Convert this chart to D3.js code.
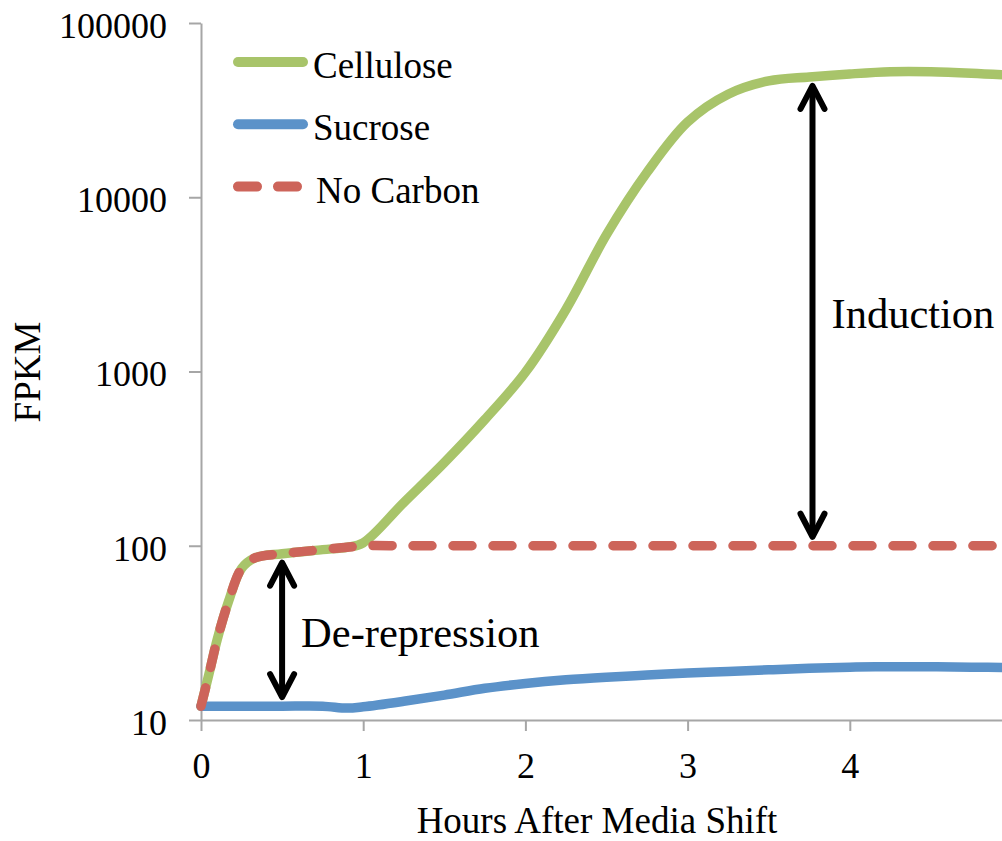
<!DOCTYPE html>
<html>
<head>
<meta charset="utf-8">
<script src="https://cdn.jsdelivr.net/npm/d3@7"></script>
<style>
  html, body { margin: 0; padding: 0; background: #fff; }
  svg { display: block; font-family: "Liberation Serif", "Times New Roman", serif; }
</style>
</head>
<body>
<div id="chart"></div>
<script>
// hours after the media shift
const hours = [0, 0.05, 0.1, 0.17, 0.25, 0.33, 0.5, 0.75, 0.9, 1, 1.25, 1.5, 1.75, 2,
  2.25, 2.5, 2.75, 3, 3.25, 3.5, 3.75, 4, 4.25, 4.5, 4.75, 5];

// FPKM
const cellulose = [12, 18.5, 29, 48, 74, 85, 90, 95, 98, 104, 177, 300, 530, 990,
  2270, 6100, 13900, 27000, 39000, 46500, 49000, 51000, 52500, 52500, 51500, 50000];
const sucrose = [12, 12, 12, 12, 12, 12, 12, 12, 11.7, 11.9, 12.8, 13.9, 15.2, 16.2,
  17.0, 17.6, 18.1, 18.6, 19.0, 19.4, 19.8, 20.1, 20.2, 20.2, 20.1, 20.0];
const noCarbon = [12, 18.5, 29, 48, 74, 85, 90, 95, 98, 100, 100, 100, 100, 100,
  100, 100, 100, 100, 100, 100, 100, 100, 100, 100, 100, 100];

const seriesNames = ["Cellulose", "Sucrose", "No Carbon"];
const xTicks = [0, 1, 2, 3, 4];
const yTicks = [10, 100, 1000, 10000, 100000];

// annotation arrows: hour, lower value, upper value
const arrowLabels = ["De-repression", "Induction"];
const arrowHours = [0.5, 3.77];
const arrowLow = [12, 100];
const arrowHigh = [90, 49000];

const width = 1002, height = 841;
const colors = { "Cellulose": "#a8c46a", "Sucrose": "#5b92c9", "No Carbon": "#cd645a" };

const svg = d3.select("#chart").append("svg")
  .attr("width", width)
  .attr("height", height);

const x = d3.scaleLinear().domain([0, 5]).range([201, 1012]);
const y = d3.scaleLog().domain([10, 100000]).range([720, 23]);

// axes
const yAxis = svg.append("g")
  .attr("transform", "translate(201,0)")
  .call(d3.axisLeft(y).tickValues(yTicks).tickFormat(d3.format("d"))
    .tickSize(12).tickSizeOuter(0).tickPadding(22));
yAxis.selectAll("text").attr("dy", "0.4em");

const xAxis = svg.append("g")
  .attr("transform", "translate(0,720)")
  .call(d3.axisBottom(x).tickValues(xTicks).tickFormat(d3.format("d"))
    .tickSize(11).tickSizeOuter(0));
xAxis.selectAll("text").attr("dy", null).attr("y", 58);

svg.selectAll(".domain, .tick line").attr("stroke", "#a6a6a6").attr("stroke-width", 2);
svg.selectAll(".tick text").attr("fill", "#000").style("font-size", "36px")
  .style("font-family", "'Liberation Serif', 'Times New Roman', serif");

svg.append("text")
  .attr("x", 597).attr("y", 833)
  .attr("text-anchor", "middle")
  .style("font-size", "37px")
  .text("Hours After Media Shift");

svg.append("text")
  .attr("transform", "translate(40,372) rotate(-90)")
  .attr("text-anchor", "middle")
  .style("font-size", "37px")
  .text("FPKM");

// series
const seriesValues = [cellulose, sucrose, noCarbon];
const line = d3.line()
  .x(d => x(d[0]))
  .y(d => y(d[1]))
  .curve(d3.curveCatmullRom.alpha(0.5));

seriesNames.forEach((name, i) => {
  const pts = hours.map((h, j) => [h, seriesValues[i][j]]);
  svg.append("path")
    .datum(pts)
    .attr("fill", "none")
    .attr("stroke", colors[name])
    .attr("stroke-width", 9.5)
    .attr("stroke-linecap", "round")
    .attr("stroke-linejoin", "round")
    .attr("stroke-dasharray", name === "No Carbon" ? "19 21" : null)
    .attr("d", line);
});

// legend
seriesNames.forEach((name, i) => {
  const ly = 62 + i * 62.3;
  svg.append("line")
    .attr("x1", 238).attr("x2", name === "No Carbon" ? 297 : 303)
    .attr("y1", ly).attr("y2", ly)
    .attr("stroke", colors[name])
    .attr("stroke-width", 10)
    .attr("stroke-linecap", "round")
    .attr("stroke-dasharray", name === "No Carbon" ? "19 21" : null);
  svg.append("text")
    .attr("x", name === "No Carbon" ? 316 : 313)
    .attr("y", ly + 16)
    .style("font-size", "37px")
    .text(name);
});

// arrows
arrowLabels.forEach((label, i) => {
  const ax = x(arrowHours[i]);
  const top = y(arrowHigh[i]) + 9;
  const bottom = y(arrowLow[i]) - 9;
  const g = svg.append("g")
    .attr("fill", "none")
    .attr("stroke", "#000")
    .attr("stroke-width", 6)
    .attr("stroke-linecap", "round")
    .attr("stroke-linejoin", "round");
  g.append("line").attr("x1", ax).attr("x2", ax).attr("y1", top + 2).attr("y2", bottom - 2);
  g.append("polyline").attr("points", `${ax - 12},${top + 23} ${ax},${top} ${ax + 12},${top + 23}`);
  g.append("polyline").attr("points", `${ax - 12},${bottom - 23} ${ax},${bottom} ${ax + 12},${bottom - 23}`);
  svg.append("text")
    .attr("x", ax + 19)
    .attr("y", (top + bottom) / 2 + 17)
    .style("font-size", "42.5px")
    .text(label);
});
</script>
</body>
</html>
